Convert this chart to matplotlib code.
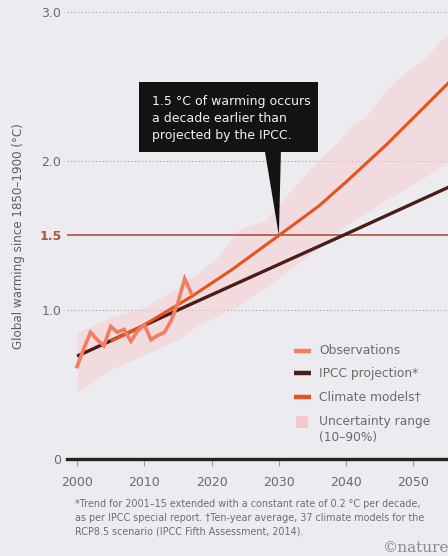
import matplotlib
matplotlib.use("Agg")
import matplotlib.pyplot as plt
from matplotlib.patches import Rectangle, Polygon
from matplotlib.lines import Line2D

# ---- data -------------------------------------------------------------
obs_years = [2000, 2001, 2002, 2003, 2004, 2005, 2006, 2007, 2008, 2009,
             2010, 2011, 2012, 2013, 2014, 2015, 2016, 2017]
obs_vals = [0.62, 0.74, 0.85, 0.80, 0.76, 0.89, 0.85, 0.87, 0.79, 0.86,
            0.90, 0.80, 0.83, 0.85, 0.93, 1.05, 1.21, 1.11]

ipcc_years = [2000, 2015, 2040, 2056]
ipcc_vals = [0.69, 1.00, 1.51, 1.84]

model_years = [2005, 2010, 2017, 2023, 2030, 2036, 2040, 2046, 2050, 2056]
model_vals = [0.79, 0.90, 1.09, 1.27, 1.50, 1.70, 1.86, 2.11, 2.29, 2.56]

band_years = [2000, 2005, 2010, 2015, 2018, 2021, 2024, 2028, 2031, 2036,
              2039, 2041, 2043, 2046, 2049, 2052, 2054, 2056]
band_low = [0.45, 0.60, 0.70, 0.80, 0.90, 0.96, 1.03, 1.15, 1.25, 1.42,
            1.53, 1.60, 1.65, 1.74, 1.82, 1.90, 1.96, 2.01]
band_high = [0.85, 0.95, 1.02, 1.15, 1.25, 1.36, 1.54, 1.60, 1.76, 2.01,
             2.14, 2.25, 2.30, 2.48, 2.60, 2.70, 2.81, 2.88]

threshold = 1.5
cross_year = 2030
x_ticks = [2000, 2010, 2020, 2030, 2040, 2050]
y_ticks = [0, 1.0, 1.5, 2.0, 3.0]
y_labels = ["0", "1.0", "1.5", "2.0", "3.0"]

# ---- style ------------------------------------------------------------
BG = "#ecebef"
C_OBS = "#f27d60"
C_IPCC = "#4a1d16"
C_MODEL = "#e8521c"
C_BAND = "#f6cdcf"
C_THRESH = "#b0503f"
C_TEXT = "#6a6a6a"

W, H = 448, 556
fig = plt.figure(figsize=(W / 100, H / 100), dpi=100, facecolor=BG)


def fx(px):
    return px / W


def fy(py):
    return 1 - py / H


ax = fig.add_axes([fx(67), fy(459), fx(448) - fx(67), fy(0) - fy(459)])
ax.set_facecolor(BG)
ax.set_xlim(1998.51, 2055.13)
ax.set_ylim(0, 3.08)

for s in ["left", "right", "top"]:
    ax.spines[s].set_visible(False)
ax.spines["bottom"].set_linewidth(2.4)
ax.spines["bottom"].set_color("#262222")

# gridlines
for g in [1.0, 2.0, 3.0]:
    ax.axhline(g, color="#aaa8a0", lw=0.8, ls=(0, (1.2, 2.0)), zorder=1)
ax.axhline(threshold, color=C_THRESH, lw=1.2, zorder=2)

# uncertainty band and series
ax.fill_between(band_years, band_low, band_high, color=C_BAND, lw=0,
                alpha=0.5, zorder=1.5)
ax.plot(ipcc_years, ipcc_vals, color=C_IPCC, lw=2.4, zorder=4,
        solid_capstyle="butt")
ax.plot(model_years, model_vals, color=C_MODEL, lw=2.2, zorder=5,
        solid_capstyle="butt")
ax.plot(obs_years, obs_vals, color=C_OBS, lw=2.6, zorder=6,
        solid_joinstyle="miter")

# ticks
ax.set_xticks(x_ticks)
ax.set_xticklabels([str(t) for t in x_ticks])
ax.tick_params(axis="x", length=5, width=0.8, color="#9a9a9a", pad=7,
               labelsize=9, labelcolor=C_TEXT)
ax.set_yticks(y_ticks)
ax.set_yticklabels(y_labels)
ax.tick_params(axis="y", length=0, pad=4, labelsize=9, labelcolor=C_TEXT)
for lbl in ax.get_yticklabels():
    if lbl.get_text() == "1.5":
        lbl.set_color(C_THRESH)
        lbl.set_fontweight("bold")

fig.text(fx(19), fy(236), "Global warming since 1850\u20131900 (\u00b0C)",
         rotation=90, ha="center", va="center", fontsize=8.6, color="#5e5e5e")

# callout box pointing at the threshold crossing
box_l, box_r, box_b, box_t = 2009.2, 2035.8, 2.06, 2.53
ax.add_patch(Rectangle((box_l, box_b), box_r - box_l, box_t - box_b,
                       facecolor="#141212", edgecolor="none", zorder=8,
                       clip_on=False))
ax.add_patch(Polygon([(2027.9, box_b + 0.01), (2030.3, box_b + 0.01),
                      (cross_year, threshold)],
                     closed=True, facecolor="#141212", edgecolor="none",
                     zorder=8))
callout = ["1.5 \u00b0C of warming occurs", "a decade earlier than",
           "projected by the IPCC."]
for i, line in enumerate(callout):
    ax.text(2011.1, 2.40 - i * 0.115, line, color="#f2f2f2", fontsize=9.0,
            ha="left", va="center", zorder=9)

# legend
leg_items = [("Observations", C_OBS, 351), ("IPCC projection*", C_IPCC, 373),
             ("Climate models\u2020", C_MODEL, 397)]
for label, col, py in leg_items:
    fig.add_artist(Line2D([fx(294), fx(311)], [fy(py), fy(py)], color=col,
                          lw=3.2, solid_capstyle="butt"))
    fig.text(fx(319), fy(py), label, ha="left", va="center", fontsize=8.8,
             color=C_TEXT)
fig.add_artist(Rectangle((fx(296), fy(428)), fx(12), 12 / H,
                         transform=fig.transFigure, facecolor="#f4c9cd",
                         edgecolor="none"))
fig.text(fx(319), fy(421), "Uncertainty range", ha="left", va="center",
         fontsize=8.8, color=C_TEXT)
fig.text(fx(319), fy(438), "(10\u201390%)", ha="left", va="center",
         fontsize=8.8, color=C_TEXT)

# footnote
notes = ["*Trend for 2001\u201315 extended with a constant rate of 0.2 \u00b0C per decade,",
         "as per IPCC special report. \u2020Ten-year average, 37 climate models for the",
         "RCP8.5 scenario (IPCC Fifth Assessment, 2014)."]
for i, line in enumerate(notes):
    fig.text(fx(75), fy(504 + i * 14), line, ha="left", va="center",
             fontsize=6.9, color="#6e6e6e")
fig.text(fx(383), fy(548), "\u00a9nature", ha="left", va="center",
         fontsize=11, color="#8a8a8a", family="DejaVu Serif")

fig.savefig("out.png", dpi=100, facecolor=BG)
